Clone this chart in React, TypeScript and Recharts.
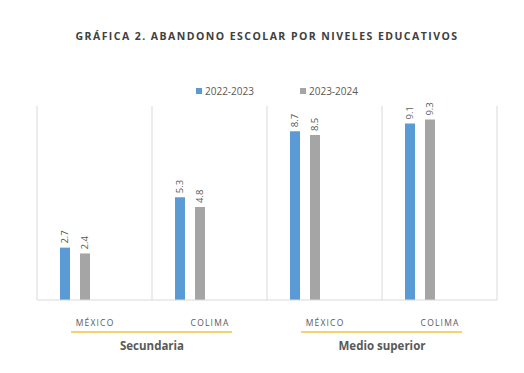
import { Bar, BarChart, CartesianGrid, LabelList, XAxis, YAxis } from "recharts";

const categories = ["MÉXICO", "COLIMA", "MÉXICO", "COLIMA"];
const groups = ["Secundaria", "Secundaria", "Medio superior", "Medio superior"];
const serie2022 = [2.7, 5.3, 8.7, 9.1];
const serie2023 = [2.4, 4.8, 8.5, 9.3];
const seriesNames = ["2022-2023", "2023-2024"];
const yTicks = [0, 10];

const data = categories.map((c, i) => ({
  cat: c,
  group: groups[i],
  a: serie2022[i],
  b: serie2023[i],
  c: null,
  d: null,
}));

const W = 524;
const H = 373;
const M = { top: 106, left: 37, right: 27, bottom: 0 };
const band = (W - M.left - M.right) / categories.length;
const font = "'Open Sans', sans-serif";
const textGray = "#595959";
const colors = ["#5b9bd5", "#a5a5a5"];

function CatTick(props: any) {
  const { x, y, payload, index } = props;
  const showGroup = index % 2 === 0;
  const mid = x + band / 2;
  return (
    <g>
      <text x={x + 0.6} y={y + 14} textAnchor="middle" dominantBaseline="central" fill={textGray} fontSize={8.5} letterSpacing={1.2} fontFamily={font}>
        {payload.value}
      </text>
      {showGroup && (
        <g>
          <line x1={mid - 81} x2={mid + 80} y1={y + 24} y2={y + 24} stroke="#f5c342" strokeWidth={1.5} />
          <text x={mid} y={y + 37} textAnchor="middle" dominantBaseline="central" fill={textGray} fontSize={11.5} fontWeight="bold" fontFamily={font}>
            {groups[index]}
          </text>
        </g>
      )}
    </g>
  );
}

function ValueLabel(props: any) {
  const { x, y, width, value } = props;
  if (value == null) return null;
  const cx = x + width / 2;
  const cy = y - 4;
  return (
    <text x={cx} y={cy} transform={`rotate(-90 ${cx} ${cy})`} textAnchor="start" dominantBaseline="central" fill={textGray} fontSize={9.5} fontFamily={font}>
      {value.toFixed(1)}
    </text>
  );
}

function LegendBox() {
  const lefts = [196, 300];
  return (
    <>
      {seriesNames.map((n, i) => (
        <div key={n} style={{ position: "absolute", top: 83, left: lefts[i], display: "flex", alignItems: "center", fontFamily: font, fontSize: 10, color: textGray, lineHeight: "16px" }}>
          <span style={{ width: 6, height: 6, background: colors[i], display: "inline-block", marginRight: 3 }} />
          {n}
        </div>
      ))}
    </>
  );
}

export default function App() {
  return (
    <div style={{ position: "fixed", left: 0, top: 0, width: W, height: H, background: "#fff" }}>
      <div style={{ position: "absolute", top: 29, left: 5, width: W, textAlign: "center", fontFamily: font, fontWeight: "bold", fontSize: 10.5, letterSpacing: 1.45, color: "#404040" }}>
        GRÁFICA 2. ABANDONO ESCOLAR POR NIVELES EDUCATIVOS
      </div>
      <LegendBox />
      <BarChart width={W} height={H} data={data} margin={M} barSize={10} barGap={10} style={{ position: "absolute", left: 0, top: 0 }}>
        <CartesianGrid
          horizontal={false}
          stroke="#d9d9d9"
          verticalCoordinatesGenerator={({ offset }: any) =>
            categories.map((_, i) => offset.left + i * (offset.width / categories.length)).concat(offset.left + offset.width)
          }
        />
        <XAxis dataKey="cat" height={73} tickLine={false} axisLine={{ stroke: "#d9d9d9" }} interval={0} tick={<CatTick />} />
        <YAxis hide domain={[yTicks[0], yTicks[1]]} ticks={yTicks} />
        <Bar dataKey="a" name={seriesNames[0]} fill={colors[0]} isAnimationActive={false}>
          <LabelList dataKey="a" content={<ValueLabel />} />
        </Bar>
        <Bar dataKey="b" name={seriesNames[1]} fill={colors[1]} isAnimationActive={false}>
          <LabelList dataKey="b" content={<ValueLabel />} />
        </Bar>
        <Bar dataKey="c" legendType="none" fill="none" isAnimationActive={false} />
        <Bar dataKey="d" legendType="none" fill="none" isAnimationActive={false} />
      </BarChart>
    </div>
  );
}
